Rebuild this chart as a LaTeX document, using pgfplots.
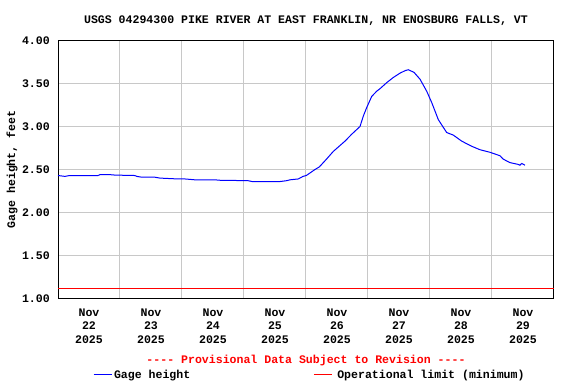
\documentclass[border=0pt]{standalone}
\usepackage{pgfplots}
\pgfplotsset{compat=1.18}
\usepackage{fontspec}
\setmainfont{Liberation Mono}[Ligatures=TeXOff]
\definecolor{gridgray}{RGB}{200,200,200}
\begin{document}
\begin{tikzpicture}
\useasboundingbox (0,0) rectangle (576bp,384bp);
\begin{axis}[
  at={(58bp,85.5bp)}, anchor=south west,
  scale only axis, width=496bp, height=258bp,
  xmin=0, xmax=8, ymin=1, ymax=4,
  font=\fontsize{11.6}{13.5}\selectfont\bfseries,
  /pgf/number format/assume math mode=true,
  xtick={0.5,1.5,2.5,3.5,4.5,5.5,6.5,7.5},
  xticklabels={{Nov\\22\\2025},{Nov\\23\\2025},{Nov\\24\\2025},{Nov\\25\\2025},{Nov\\26\\2025},{Nov\\27\\2025},{Nov\\28\\2025},{Nov\\29\\2025}},
  xticklabel style={align=center, anchor=north, inner sep=0pt, yshift=-10bp},
  minor xtick={1,2,3,4,5,6,7},
  xminorgrids=true, xmajorgrids=false,
  ytick={1,1.5,2,2.5,3,3.5,4},
  yticklabel style={/pgf/number format/fixed, /pgf/number format/fixed zerofill, /pgf/number format/precision=2},
  yticklabel style={inner sep=0pt, anchor=east, xshift=-8bp},
  ymajorgrids=true,
  grid style={draw=gridgray, line width=1bp},
  major tick length=0pt, minor tick length=0pt,
  axis line style={line width=1bp, black},
  ylabel={Gage height, feet},
  ylabel style={at={(axis description cs:-0.0927,0.5)}, anchor=center},
  title={USGS 04294300 PIKE RIVER AT EAST FRANKLIN, NR ENOSBURG FALLS, VT},
  title style={at={(axis description cs:0.5,1)}, anchor=center, yshift=14bp, inner sep=0pt},
  legend columns=2,
  legend cell align=left,
  legend image code/.code={\draw[#1] (0bp,0bp) -- (18bp,0bp);},
  legend style={draw=none, fill=none, inner sep=0pt, outer sep=0pt,
    anchor=west, at={(axis description cs:0.0706,-0.2965)},
    /tikz/every even column/.append style={column sep=121bp},
    /tikz/column 3/.style={column sep=3bp}},
  clip=false,
]
\addplot[blue, line width=1bp] coordinates {
(0,2.43) (0.11,2.42) (0.19,2.43) (0.40,2.43) (0.645,2.43) (0.677,2.44) (0.84,2.44) (0.92,2.435)
(1.24,2.43) (1.27,2.42) (1.355,2.41) (1.565,2.41) (1.645,2.40) (1.935,2.39) (2.048,2.39)
(2.21,2.38) (2.53,2.38) (2.61,2.375) (3.065,2.37) (3.13,2.36) (3.58,2.36) (3.69,2.37)
(3.74,2.38) (3.876,2.39) (3.952,2.42) (4.005,2.43) (4.145,2.50) (4.215,2.53) (4.33,2.62)
(4.44,2.71) (4.629,2.83) (4.737,2.91) (4.871,3.00) (4.924,3.12) (4.979,3.22) (5.06,3.35)
(5.14,3.41) (5.194,3.44) (5.302,3.51) (5.408,3.57) (5.516,3.62) (5.60,3.65) (5.65,3.66)
(5.742,3.63) (5.839,3.55) (5.947,3.41) (6.027,3.28) (6.134,3.08) (6.269,2.93) (6.376,2.90)
(6.511,2.83) (6.673,2.77) (6.806,2.73) (6.968,2.70) (7.129,2.66) (7.182,2.62) (7.29,2.58)
(7.419,2.56) (7.45,2.55) (7.48,2.57) (7.532,2.55)
};
\addlegendentry{Gage height}
\addplot[red, line width=1bp] coordinates {(0,1.12) (8,1.12)};
\addlegendentry{Operational limit (minimum)}
\node[red, anchor=center, inner sep=0pt] at (axis description cs:0.5,-0.2422) {---- Provisional Data Subject to Revision ----};
\end{axis}
\end{tikzpicture}
\end{document}
